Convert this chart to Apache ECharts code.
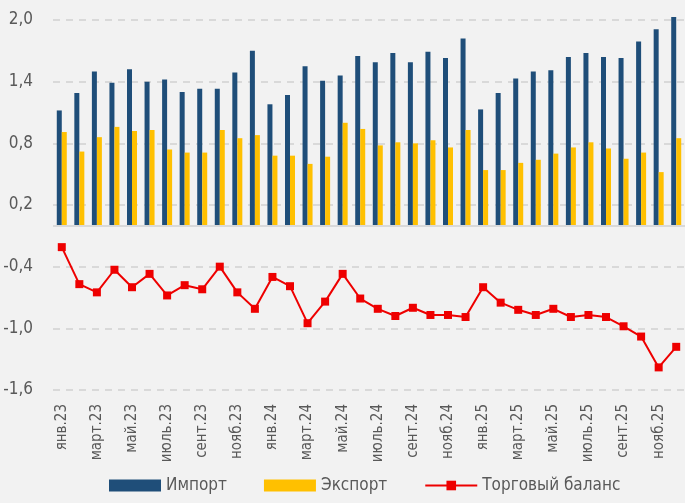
<!DOCTYPE html>
<html>
<head>
<meta charset="utf-8">
<script src="https://cdn.jsdelivr.net/npm/echarts@6/dist/echarts.min.js"></script>
<style>
  html, body { margin: 0; padding: 0; background: #f2f2f2; }
  #main { width: 685px; height: 503px; }
</style>
</head>
<body>
<div id="main"></div>
<script>
var months = ['янв', 'февр', 'март', 'апр', 'май', 'июнь', 'июль', 'авг', 'сент', 'окт', 'нояб', 'дек'];
var years = ['23', '24', '25'];
var categories = [];
years.forEach(function(y) {
    months.forEach(function(m) {
        categories.push(m + '.' + y);
    });
});

var importData = [1.12, 1.29, 1.50, 1.39, 1.52, 1.40, 1.42, 1.30, 1.33, 1.33, 1.49, 1.70,
                  1.18, 1.27, 1.55, 1.41, 1.46, 1.65, 1.59, 1.68, 1.59, 1.69, 1.63, 1.82,
                  1.13, 1.29, 1.43, 1.50, 1.51, 1.64, 1.68, 1.64, 1.63, 1.79, 1.91, 2.03];
var exportData = [0.91, 0.72, 0.86, 0.96, 0.92, 0.93, 0.74, 0.71, 0.71, 0.93, 0.85, 0.88,
                  0.68, 0.68, 0.60, 0.67, 1.00, 0.94, 0.78, 0.81, 0.80, 0.83, 0.76, 0.93,
                  0.54, 0.54, 0.61, 0.64, 0.70, 0.76, 0.81, 0.75, 0.65, 0.71, 0.52, 0.85];
var balanceData = [-0.21, -0.57, -0.65, -0.43, -0.60, -0.47, -0.68, -0.58, -0.62, -0.40, -0.65, -0.81,
                   -0.50, -0.59, -0.95, -0.74, -0.47, -0.71, -0.81, -0.88, -0.80, -0.87, -0.87, -0.89,
                   -0.60, -0.75, -0.82, -0.87, -0.81, -0.89, -0.87, -0.89, -0.98, -1.08, -1.38, -1.18];

var FONT = '"Liberation Sans Narrow", "DejaVu Sans Condensed", "Roboto", sans-serif';
var TXT = '#595959';

var myChart = echarts.init(document.getElementById('main'));
var option = {
    backgroundColor: '#f2f2f2',
    animation: false,
    textStyle: { fontFamily: FONT },
    grid: { left: 53, right: 0, top: 20, bottom: 113 },
    legend: {
        left: 104,
        bottom: 4,
        itemWidth: 52,
        itemHeight: 12,
        itemGap: 37,
        textStyle: { fontFamily: FONT, fontSize: 17, color: TXT },
        data: [
            { name: 'Импорт', icon: 'rect' },
            { name: 'Экспорт', icon: 'rect' },
            { name: 'Торговый баланс' }
        ]
    },
    xAxis: {
        type: 'category',
        data: categories,
        axisLine: { show: false, onZero: false },
        axisTick: { show: false },
        axisLabel: {
            interval: 1,
            rotate: 90,
            margin: 14,
            fontFamily: FONT,
            fontSize: 15,
            color: TXT
        }
    },
    yAxis: {
        type: 'value',
        min: -1.6,
        max: 2.0,
        interval: 0.6,
        axisLine: { show: false },
        axisTick: { show: false },
        axisLabel: {
            margin: 20,
            fontFamily: FONT,
            fontSize: 17,
            color: TXT,
            formatter: function(v) {
                return v.toFixed(1).replace('.', ',');
            }
        },
        splitLine: {
            lineStyle: { color: '#d9d9d9', width: 2, type: [7, 6] }
        }
    },
    series: [
        {
            name: 'Импорт',
            type: 'bar',
            data: importData,
            barWidth: 5,
            barGap: '0%',
            clip: false,
            itemStyle: { color: '#1f4e79' },
            markLine: {
                silent: true,
                symbol: 'none',
                label: { show: false },
                lineStyle: { color: '#d9d9d9', width: 2, type: 'solid' },
                data: [{ yAxis: 0 }]
            }
        },
        {
            name: 'Экспорт',
            type: 'bar',
            data: exportData,
            barWidth: 5,
            itemStyle: { color: '#ffc000' }
        },
        {
            name: 'Торговый баланс',
            type: 'line',
            data: balanceData,
            symbol: 'rect',
            symbolSize: 8,
            itemStyle: { color: '#ee0000' },
            lineStyle: { color: '#ee0000', width: 2 }
        }
    ]
};
myChart.setOption(option);
</script>
</body>
</html>
